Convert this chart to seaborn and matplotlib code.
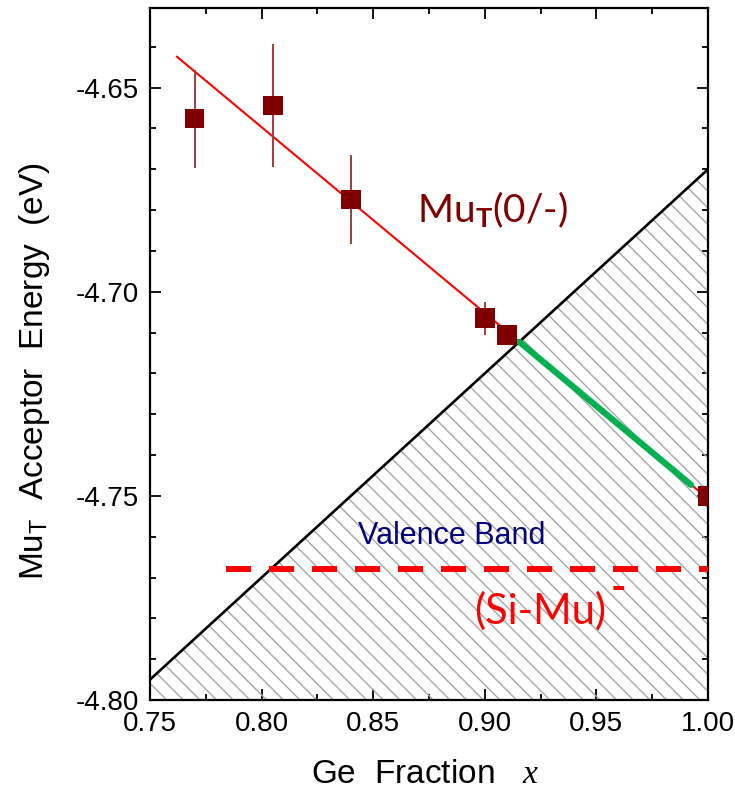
import matplotlib
matplotlib.use("Agg")
import matplotlib.pyplot as plt
import seaborn as sns
import pandas as pd
from matplotlib.ticker import MultipleLocator, FormatStrFormatter

# ---- data ----
ge_x = [0.77, 0.805, 0.84, 0.90, 0.91, 1.00]
energy = [-4.6576, -4.6544, -4.6774, -4.7065, -4.7106, -4.750]
energy_err = [0.012, 0.015, 0.011, 0.004, 0.0, 0.0]

fit_x = [0.762, 1.00]
fit_y = [-4.6424, -4.7507]

band_x = [0.75, 1.00]
band_y = [-4.795, -4.670]

green_x = [0.9155, 0.9924]
green_y = [-4.7123, -4.7473]

simu_x = [0.784, 1.00]
simu_y = [-4.768, -4.768]

x_ticks = [0.75, 0.80, 0.85, 0.90, 0.95, 1.00]
y_ticks = [-4.80, -4.75, -4.70, -4.65]

sns.set_theme(style="ticks")
plt.rcParams["font.family"] = ["Liberation Sans", "DejaVu Sans"]
plt.rcParams["axes.unicode_minus"] = False
plt.rcParams["mathtext.fontset"] = "custom"
plt.rcParams["mathtext.rm"] = "Liberation Sans"
plt.rcParams["mathtext.bf"] = "Lato:bold"
plt.rcParams["mathtext.it"] = "Liberation Serif:italic"
plt.rcParams["hatch.linewidth"] = 1.0
plt.rcParams["text.color"] = "black"
plt.rcParams["axes.labelcolor"] = "black"

fig = plt.figure(figsize=(7.35, 7.92), dpi=100)
ax = fig.add_axes([150 / 735, 1 - 700 / 792, 558 / 735, 692 / 792])

# hatched valence band region
ax.fill_between(band_x, band_y, -4.80, facecolor="none", edgecolor="#a6a6a6",
                hatch="\\\\", linewidth=0, zorder=1)

df_band = pd.DataFrame({"x": band_x, "y": band_y})
sns.lineplot(data=df_band, x="x", y="y", color="black", linewidth=1.9, ax=ax, zorder=3)

df_fit = pd.DataFrame({"x": fit_x, "y": fit_y})
sns.lineplot(data=df_fit, x="x", y="y", color="#ff0000", linewidth=1.5, ax=ax, zorder=4)

df_green = pd.DataFrame({"x": green_x, "y": green_y})
sns.lineplot(data=df_green, x="x", y="y", color="#00b050", linewidth=4.5, ax=ax, zorder=5)

df_simu = pd.DataFrame({"x": simu_x, "y": simu_y})
sns.lineplot(data=df_simu, x="x", y="y", color="#ff0000", linewidth=4.3, ax=ax,
             linestyle=(0, (4.2, 3.0)), zorder=4)

ax.errorbar(ge_x, energy, yerr=energy_err, fmt="none", ecolor="#a03c3c",
            elinewidth=1.4, capsize=0, zorder=5)
df_pts = pd.DataFrame({"x": ge_x, "y": energy})
sns.scatterplot(data=df_pts, x="x", y="y", marker="s", s=200, color="#7f0000",
                edgecolor="none", ax=ax, zorder=6)

ax.set_xlim(0.75, 1.00)
ax.set_ylim(-4.80, -4.6305)
ax.set_xticks(x_ticks)
ax.set_yticks(y_ticks)
ax.xaxis.set_major_formatter(FormatStrFormatter("%.2f"))
ax.yaxis.set_major_formatter(FormatStrFormatter("%.2f"))
ax.xaxis.set_minor_locator(MultipleLocator(0.025))
ax.yaxis.set_minor_locator(MultipleLocator(0.01))
ax.tick_params(which="both", direction="in", top=True, right=True, width=1.3,
               colors="black", labelsize=20)
ax.tick_params(which="major", length=8, pad=8)
ax.tick_params(which="minor", length=4)
for s in ax.spines.values():
    s.set_linewidth(1.6)
    s.set_color("black")

ax.set_xlabel(r"Ge  Fraction   $\mathit{x}$", fontsize=24)
ax.set_ylabel(r"Mu$_\mathdefault{T}$  Acceptor  Energy  (eV)", fontsize=24)
ax.xaxis.set_label_coords(0.493, -0.085)
ax.yaxis.set_label_coords(-0.175, 0.475)

ax.text(0.8698, -4.683, r"Mu$_\mathbf{T}$(0/-)", color="#7f0000", fontsize=28,
        family="Lato", ha="left", va="baseline", zorder=7)
ax.text(0.843, -4.7617, "Valence Band", color="#000080", fontsize=22,
        ha="left", va="baseline", zorder=7)
ax.text(0.895, -4.7813, "(Si-Mu)", color="#ff0000", fontsize=30,
        family="Lato", ha="left", va="baseline", zorder=7)
ax.text(0.9565, -4.7728, "-", color="#ff0000", fontsize=30, fontweight="bold",
        family="Lato", ha="left", va="center", zorder=7)

fig.savefig("out.png", dpi=100)
